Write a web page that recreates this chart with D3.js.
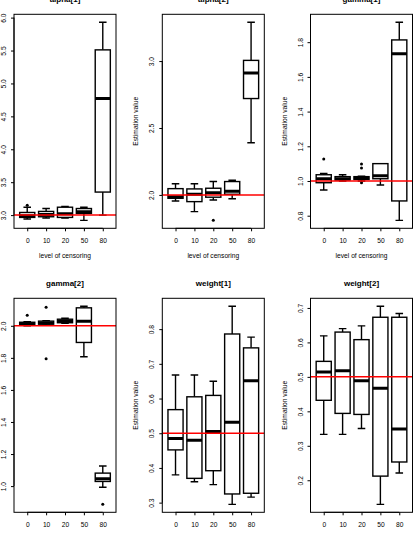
<!DOCTYPE html>
<html>
<head>
<meta charset="utf-8">
<script src="https://cdn.jsdelivr.net/npm/d3@7"></script>
<style>
  html, body { margin: 0; padding: 0; background: #fff; }
  svg { display: block; font-family: "Liberation Sans", Arial, Helvetica, sans-serif; }
</style>
</head>
<body>
<svg id="chart" width="418" height="537"></svg>
<script>
// ---- data ----
const categories = ["0", "10", "20", "50", "80"];
const titles = ["alpha[1]", "alpha[2]", "gamma[1]", "gamma[2]", "weight[1]", "weight[2]"];
const trueValues = [3, 2, 1, 2, 0.5, 0.5];

// each group: [lower whisker, Q1, median, Q3, upper whisker]
const alpha1Stats = [[2.94, 2.965, 2.99, 3.04, 3.12], [2.955, 2.975, 3.01, 3.056, 3.10], [2.955, 2.965, 3.02, 3.12, 3.13], [2.92, 3.025, 3.05, 3.10, 3.12], [3.0, 3.35, 4.77, 5.51, 5.93]];
const alpha1Out = [[3.15], [], [], [], []];
const alpha2Stats = [[1.955, 1.975, 1.987, 2.047, 2.083], [1.875, 1.95, 2.005, 2.045, 2.083], [1.962, 1.983, 2.017, 2.05, 2.10], [1.972, 2.005, 2.028, 2.10, 2.11], [2.39, 2.72, 2.91, 3.005, 3.29]];
const alpha2Out = [[], [], [1.81], [], []];
const gamma1Stats = [[0.948, 0.99, 1.013, 1.036, 1.044], [1.0, 1.006, 1.013, 1.025, 1.036], [1.0, 1.009, 1.017, 1.025, 1.027], [0.977, 1.013, 1.03, 1.10, 1.10], [0.773, 0.885, 1.733, 1.813, 1.915]];
const gamma1Out = [[1.127], [], [1.098, 1.075, 0.99], [], []];
const gamma2Stats = [[2.0, 2.003, 2.012, 2.022, 2.025], [2.003, 2.01, 2.018, 2.029, 2.032], [2.015, 2.019, 2.028, 2.041, 2.047], [1.807, 1.896, 2.029, 2.112, 2.122], [0.993, 1.029, 1.046, 1.081, 1.125]];
const gamma2Out = [[2.066], [2.116, 1.794], [], [], [0.886]];
const weight1Stats = [[0.38, 0.452, 0.485, 0.568, 0.668], [0.36, 0.37, 0.48, 0.605, 0.668], [0.352, 0.392, 0.505, 0.609, 0.65], [0.295, 0.325, 0.532, 0.786, 0.866], [0.316, 0.327, 0.651, 0.746, 0.777]];
const weight1Out = [[], [], [], [], []];
const weight2Stats = [[0.333, 0.432, 0.514, 0.545, 0.619], [0.333, 0.394, 0.518, 0.63, 0.64], [0.35, 0.391, 0.489, 0.608, 0.648], [0.13, 0.212, 0.467, 0.673, 0.705], [0.221, 0.253, 0.349, 0.673, 0.684]];
const weight2Out = [[], [], [], [], []];

const alpha1Ticks = [3.0, 3.5, 4.0, 4.5, 5.0, 5.5, 6.0];
const alpha2Ticks = [2.0, 2.5, 3.0];
const gamma1Ticks = [0.8, 1.0, 1.2, 1.4, 1.6, 1.8];
const gamma2Ticks = [1.0, 1.2, 1.4, 1.6, 1.8, 2.0];
const weight1Ticks = [0.3, 0.4, 0.5, 0.6, 0.7, 0.8];
const weight2Ticks = [0.2, 0.3, 0.4, 0.5, 0.6, 0.7];

const xLabel = "level of censoring";
const yLabel = "Estimation value";

const panelStats = [alpha1Stats, alpha2Stats, gamma1Stats, gamma2Stats, weight1Stats, weight2Stats];
const panelOut = [alpha1Out, alpha2Out, gamma1Out, gamma2Out, weight1Out, weight2Out];
const panelTicks = [alpha1Ticks, alpha2Ticks, gamma1Ticks, gamma2Ticks, weight1Ticks, weight2Ticks];

// ---- layout ----
const plotLefts = [14, 162.3, 310.5];
const plotTops = [14.3, 298.3];
const plotW = 102, plotH = 214;
const baseFont = 6.67;

const svg = d3.select("#chart");

panelStats.forEach((stats, p) => {
  const col = p % 3, row = Math.floor(p / 3);
  const L = plotLefts[col], T = plotTops[row];
  const outs = panelOut[p];
  const allVals = stats.flat().concat(outs.flat());
  const lo = d3.min(allVals), hi = d3.max(allVals);
  const pad = (hi - lo) * 0.04;

  const x = d3.scaleLinear().domain([0.3, 5.7]).range([L, L + plotW]);
  const y = d3.scaleLinear().domain([lo - pad, hi + pad]).range([T + plotH, T]);
  const g = svg.append("g");

  const unit = x(1) - x(0);
  const bw = 0.8 * unit, cw = 0.4 * unit;

  // y axis
  const yAxis = d3.axisLeft(y).tickValues(panelTicks[p]).tickSize(3).tickPadding(0).tickFormat(d3.format(".1f"));
  const ya = g.append("g").attr("transform", `translate(${L},0)`).call(yAxis);
  ya.select(".domain").attr("d", `M${-0},${y(d3.min(panelTicks[p]))}V${y(d3.max(panelTicks[p]))}`).attr("stroke", "#000");
  ya.selectAll(".tick line").attr("stroke", "#000");
  ya.selectAll(".tick text").remove();
  ya.selectAll(".tick").append("text")
    .attr("transform", "translate(-10.5,0) rotate(-90)")
    .attr("text-anchor", "middle").attr("dominant-baseline", "central")
    .attr("fill", "#000").attr("font-size", baseFont)
    .text(d => d3.format(".1f")(d));

  // x axis
  const xAxis = d3.axisBottom(x).tickValues([1, 2, 3, 4, 5]).tickSize(3).tickPadding(0).tickFormat(d => categories[d - 1]);
  const xa = g.append("g").attr("transform", `translate(0,${T + plotH})`).call(xAxis);
  xa.select(".domain").attr("d", `M${x(1)},0H${x(5)}`).attr("stroke", "#000");
  xa.selectAll(".tick line").attr("stroke", "#000");
  xa.selectAll(".tick text").attr("y", 12.4).attr("dy", 0).attr("dominant-baseline", "central")
    .attr("fill", "#000").attr("font-size", baseFont).attr("font-family", null);
  xa.attr("font-family", null);
  ya.attr("font-family", null);

  // clip
  const clipId = "clip" + p;
  svg.append("clipPath").attr("id", clipId).append("rect").attr("x", L).attr("y", T).attr("width", plotW).attr("height", plotH);
  const pg = g.append("g").attr("clip-path", `url(#${clipId})`);

  stats.forEach((s, i) => {
    const cx = x(i + 1);
    const [wl, q1, md, q3, wh] = s;
    // whiskers
    pg.append("line").attr("x1", cx).attr("x2", cx).attr("y1", y(q3)).attr("y2", y(wh)).attr("stroke", "#000").attr("stroke-width", 1.4);
    pg.append("line").attr("x1", cx).attr("x2", cx).attr("y1", y(q1)).attr("y2", y(wl)).attr("stroke", "#000").attr("stroke-width", 1.4);
    pg.append("line").attr("x1", cx - cw / 2).attr("x2", cx + cw / 2).attr("y1", y(wh)).attr("y2", y(wh)).attr("stroke", "#000").attr("stroke-width", 1.4);
    pg.append("line").attr("x1", cx - cw / 2).attr("x2", cx + cw / 2).attr("y1", y(wl)).attr("y2", y(wl)).attr("stroke", "#000").attr("stroke-width", 1.4);
    // box
    pg.append("rect").attr("x", cx - bw / 2).attr("y", y(q3)).attr("width", bw).attr("height", Math.max(0.1, y(q1) - y(q3)))
      .attr("fill", "#fff").attr("stroke", "#000").attr("stroke-width", 1.4);
    // median
    pg.append("line").attr("x1", cx - bw / 2).attr("x2", cx + bw / 2).attr("y1", y(md)).attr("y2", y(md)).attr("stroke", "#000").attr("stroke-width", 3);
    // outliers
    outs[i].forEach(v => {
      pg.append("circle").attr("cx", cx).attr("cy", y(v)).attr("r", 1.5).attr("fill", "#000");
    });
  });

  // reference line
  pg.append("line").attr("x1", L).attr("x2", L + plotW).attr("y1", y(trueValues[p])).attr("y2", y(trueValues[p]))
    .attr("stroke", "#ff0000").attr("stroke-width", 1.5);

  // frame
  g.append("rect").attr("x", L).attr("y", T).attr("width", plotW).attr("height", plotH)
    .attr("fill", "none").attr("stroke", "#000").attr("stroke-width", 1);

  // title
  g.append("text").attr("x", L + plotW / 2).attr("y", T - 14.6).attr("text-anchor", "middle").attr("dominant-baseline", "central")
    .attr("font-weight", "bold").attr("font-size", 8).attr("fill", "#000").text(titles[p]);
  // x label
  g.append("text").attr("x", L + plotW / 2).attr("y", T + plotH + 27).attr("text-anchor", "middle").attr("dominant-baseline", "central")
    .attr("font-size", baseFont).attr("fill", "#000").text(xLabel);
  // y label
  g.append("text").attr("transform", `translate(${L - 26.5},${T + plotH / 2}) rotate(-90)`).attr("text-anchor", "middle").attr("dominant-baseline", "central")
    .attr("font-size", baseFont).attr("fill", "#000").text(yLabel);
});
</script>
</body>
</html>
